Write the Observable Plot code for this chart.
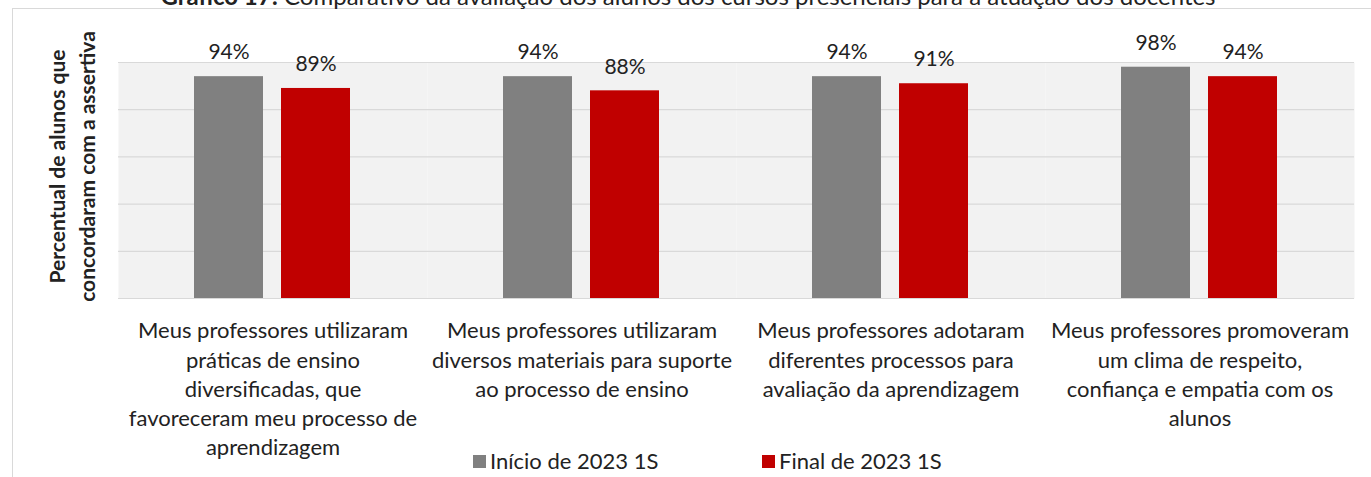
<!DOCTYPE html>
<html><head><meta charset="utf-8">
<script src="https://cdn.jsdelivr.net/npm/d3@7"></script>
<script src="https://cdn.jsdelivr.net/npm/@observablehq/plot@0.6"></script>
<style>
body{margin:0;background:#fff;font-family:Lato,sans-serif;}
#wrap{position:relative;width:1371px;height:477px;overflow:hidden;}
#border{position:absolute;left:12px;top:8px;width:1400px;height:500px;border-top:1px solid #d9d9d9;border-left:1px solid #d9d9d9;}
#title{position:absolute;top:-16px;left:0;width:1376px;text-align:center;font-size:24px;line-height:24px;color:#222;white-space:nowrap;}
#chart{position:absolute;left:0;top:0;}
#legend{position:absolute;top:0;left:0;width:1371px;height:477px;font-size:22px;color:#222;}
.item{position:absolute;display:flex;align-items:center;height:24px;line-height:24px;}
.sw{width:13px;height:13px;margin-right:4px;}
</style></head>
<body><div id="wrap"><div id="border"></div>
<div id="title"><b>Gráfico 17:</b> Comparativo da avaliação dos alunos dos cursos presenciais para a atuação dos docentes</div>
<div id="chart"></div><div id="legend"></div></div>
<script>
const categories = [
  "Meus professores utilizaram\npráticas de ensino\ndiversificadas, que\nfavoreceram meu processo de\naprendizagem",
  "Meus professores utilizaram\ndiversos materiais para suporte\nao processo de ensino",
  "Meus professores adotaram\ndiferentes processos para\navaliação da aprendizagem",
  "Meus professores promoveram\num clima de respeito,\nconfiança e empatia com os\nalunos"
];
const series = ["Início de 2023 1S", "Final de 2023 1S"];
const inicio = [94, 94, 94, 98];
const final = [89, 88, 91, 94];
const colors = ["#808080", "#C00000"];
const yTicks = [0, 20, 40, 60, 80, 100];
const yLabel = "Percentual de alunos que\nconcordaram com a assertiva";

const data = categories.flatMap((c, i) => [
  {cat: c, series: series[0], value: inicio[i]},
  {cat: c, series: series[1], value: final[i]}
]);

const chart = Plot.plot({
  width: 1371, height: 450,
  marginLeft: 117, marginRight: 16, marginTop: 62, marginBottom: 152,
  style: {fontFamily: "Lato, sans-serif", background: "transparent", overflow: "visible", color: "#222"},
  fx: {domain: categories, padding: 0, label: null},
  x: {domain: series, paddingInner: 0.2045, paddingOuter: 0.86, axis: null},
  y: {domain: [0, 100], axis: null},
  color: {domain: series, range: colors},
  marks: [
    Plot.frame({fill: "#F2F2F2", stroke: null}),
    Plot.gridY(yTicks, {stroke: "#D9D9D9", strokeOpacity: 1, strokeWidth: 1.2}),
    Plot.barY(data, {fx: "cat", x: "series", y: "value", fill: "series"}),
    Plot.text(data, {fx: "cat", x: "series", y: "value", text: d => d.value + "%", dy: -24, fontSize: 21, fill: "#222"}),
    Plot.axisFx({anchor: "bottom", tickSize: 0, tickPadding: 19, fontSize: 22, lineHeight: 1.33, label: null, fill: "#222"}),
    Plot.text([{cat: categories[0], t: yLabel}], {fx: "cat", frameAnchor: "left", text: "t", rotate: -90, dx: -48, dy: -14, fontSize: 21, fontWeight: "bold", lineHeight: 1.45, lineAnchor: "middle", textAnchor: "middle", fill: "#222"})
  ]
});
document.getElementById("chart").appendChild(chart);

const legend = document.getElementById("legend");
const legendX = [473, 762];
series.forEach((s, i) => {
  const it = document.createElement("div");
  it.className = "item";
  it.style.left = legendX[i] + "px";
  it.style.top = "449px";
  it.innerHTML = `<span class="sw" style="background:${colors[i]}"></span><span>${s}</span>`;
  legend.appendChild(it);
});
</script>
</body></html>
